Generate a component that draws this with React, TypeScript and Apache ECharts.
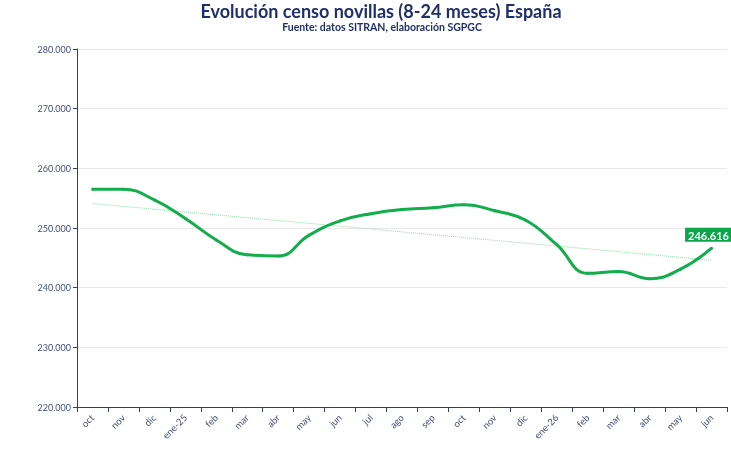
import React, { useEffect, useRef } from "react";
import * as echarts from "echarts";

const categories = ["oct", "nov", "dic", "ene-25", "feb", "mar", "abr", "may", "jun", "jul", "ago", "sep", "oct", "nov", "dic", "ene-26", "feb", "mar", "abr", "may", "jun"];
const censo = [256500, 256500, 254700, 251600, 248000, 245500, 245300, 248800, 251200, 252400, 253100, 253400, 253900, 252900, 251300, 247200, 242400, 242700, 241500, 243100, 246616];
const trendStart = 254100;
const trendEnd = 244600;
const yTicks = { min: 220000, max: 280000, interval: 10000 };

const fmt = (v: number) => String(Math.round(v)).replace(/\B(?=(\d{3})+(?!\d))/g, ".");

export default function App() {
  const ref = useRef<HTMLDivElement>(null);
  useEffect(() => {
    if (!ref.current) return;
    const chart = echarts.init(ref.current, undefined, { renderer: "svg" });
    const trend = categories.map((_, i) => (i === 0 ? trendStart : i === categories.length - 1 ? trendEnd : null));
    const navy = "#2E3D7C";
    chart.setOption({
      animation: false,
      textStyle: { fontFamily: "Lato, 'Open Sans', sans-serif" },
      title: [
        {
          text: "Evolución censo novillas (8-24 meses) España",
          left: 381,
          textAlign: "center",
          top: 2,
          padding: 0,
          textStyle: { fontSize: 18, fontWeight: "bold", color: "#1F2F6B", fontFamily: "Lato, sans-serif" },
        },
        {
          text: "Fuente: datos SITRAN, elaboración SGPGC",
          left: 382,
          textAlign: "center",
          top: 21,
          padding: 0,
          textStyle: { fontSize: 10.5, fontWeight: "bold", color: "#1F2F6B", fontFamily: "Lato, sans-serif" },
        },
      ],
      grid: { left: 77, right: 4, top: 49, bottom: 54 },
      xAxis: {
        type: "category",
        data: categories,
        boundaryGap: true,
        axisLine: { lineStyle: { color: navy, width: 1 } },
        axisTick: { show: true, alignWithLabel: false, lineStyle: { color: navy } },
        axisLabel: { rotate: 45, fontSize: 9.5, color: "#44507F", margin: 9, interval: 0 },
      },
      yAxis: {
        type: "value",
        min: yTicks.min,
        max: yTicks.max,
        interval: yTicks.interval,
        axisLine: { show: true, lineStyle: { color: navy, width: 1 } },
        axisTick: { show: true, length: 4, lineStyle: { color: navy } },
        axisLabel: { fontSize: 9, color: "#44507F", formatter: (v: number) => fmt(v), margin: 6 },
        splitLine: { lineStyle: { color: "#E8E8E8", width: 1 } },
      },
      series: [
        {
          type: "line",
          data: trend,
          connectNulls: true,
          symbol: "none",
          silent: true,
          lineStyle: { color: "#8DDBA5", width: 1, type: "dotted" },
          z: 1,
        },
        {
          type: "line",
          data: censo.map((v, i) =>
            i === censo.length - 1
              ? {
                  value: v,
                  label: {
                    show: true,
                    position: "top",
                    offset: [-3, 0],
                    formatter: (p: any) => fmt(p.value),
                    color: "#fff",
                    fontWeight: "bold",
                    fontSize: 11,
                    backgroundColor: "#0BA64A",
                    padding: [2, 3, 1, 3],
                  },
                }
              : v
          ),
          smooth: 0.45,
          symbol: "circle",
          symbolSize: 3,
          itemStyle: { color: "#13AD4C" },
          lineStyle: { color: "#13AD4C", width: 3 },
          z: 2,
        },
      ],
    });
    return () => chart.dispose();
  }, []);
  return <div ref={ref} style={{ position: "fixed", left: 0, top: 0, width: 731, height: 461 }} />;
}
